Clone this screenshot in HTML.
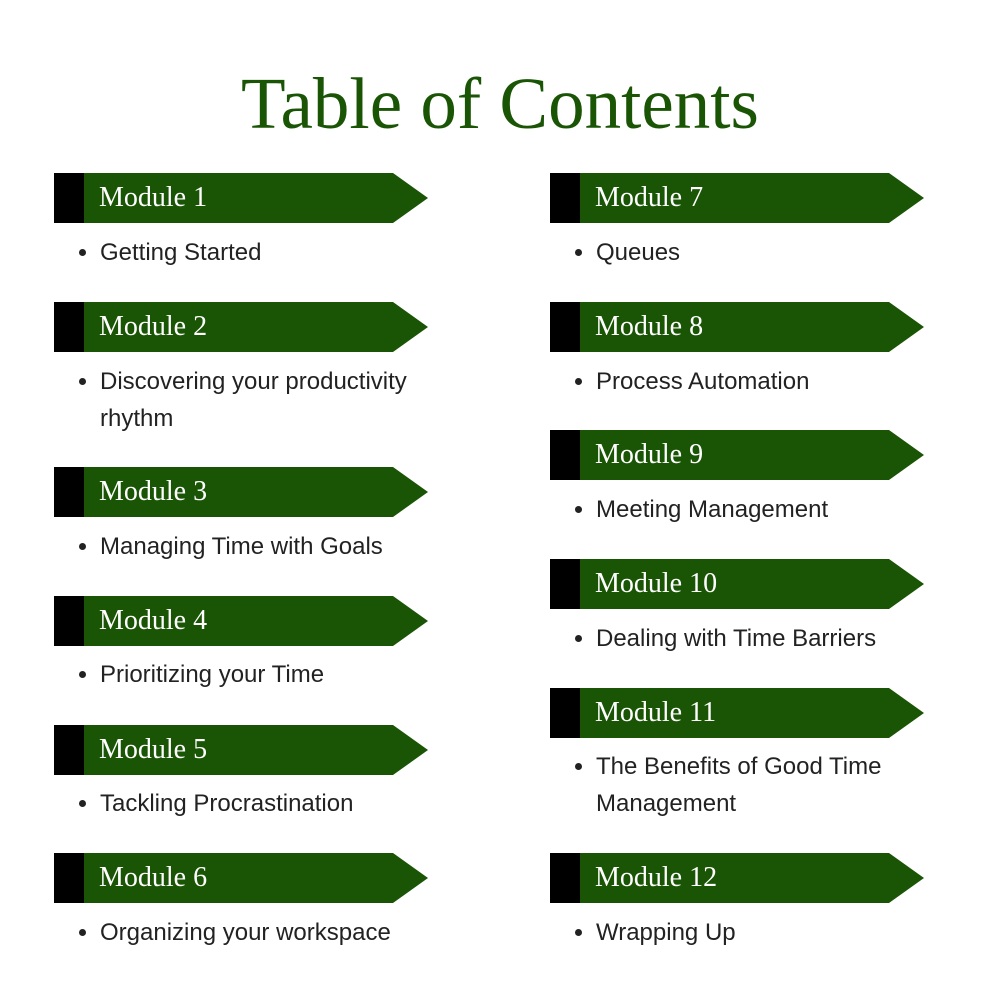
<!DOCTYPE html>
<html><head><meta charset="utf-8"><style>
body{margin:0;width:1000px;height:1000px;background:#fff;position:relative;overflow:hidden}
.t{position:absolute;left:0;width:1000px;text-align:center;top:59px;font:73px/90px "Liberation Serif",serif;color:#1a5505}
.b{position:absolute;width:374px;height:50px}
.b svg{position:absolute;left:0;top:0}
.b span{position:absolute;left:45px;top:8px;font:28px/34px "Liberation Serif",serif;color:#fff}
.i{position:absolute;font:24px/37px "Liberation Sans",sans-serif;color:#222;width:340px;margin-top:2px}
.i:before{content:"";position:absolute;left:-21px;top:15px;width:7px;height:7px;border-radius:50%;background:#222}
</style></head><body>
<div class="t">Table of Contents</div>
<svg width="0" height="0" style="position:absolute"><defs><g id="bn"><rect x="0" y="0" width="30" height="50" fill="#000"/><polygon points="30,0 339,0 374,25 339,50 30,50" fill="#1a5505"/></g></defs></svg>

<div class="b" style="left:54px;top:173px"><svg width="374" height="50"><use href="#bn"/></svg><span>Module 1</span></div>
<div class="i" style="left:100px;top:232px">Getting Started</div>
<div class="b" style="left:54px;top:302px"><svg width="374" height="50"><use href="#bn"/></svg><span>Module 2</span></div>
<div class="i" style="left:100px;top:361px">Discovering your productivity rhythm</div>
<div class="b" style="left:54px;top:467px"><svg width="374" height="50"><use href="#bn"/></svg><span>Module 3</span></div>
<div class="i" style="left:100px;top:526px">Managing Time with Goals</div>
<div class="b" style="left:54px;top:596px"><svg width="374" height="50"><use href="#bn"/></svg><span>Module 4</span></div>
<div class="i" style="left:100px;top:654px">Prioritizing your Time</div>
<div class="b" style="left:54px;top:725px"><svg width="374" height="50"><use href="#bn"/></svg><span>Module 5</span></div>
<div class="i" style="left:100px;top:783px">Tackling Procrastination</div>
<div class="b" style="left:54px;top:853px"><svg width="374" height="50"><use href="#bn"/></svg><span>Module 6</span></div>
<div class="i" style="left:100px;top:912px">Organizing your workspace</div>

<div class="b" style="left:550px;top:173px"><svg width="374" height="50"><use href="#bn"/></svg><span>Module 7</span></div>
<div class="i" style="left:596px;top:232px">Queues</div>
<div class="b" style="left:550px;top:302px"><svg width="374" height="50"><use href="#bn"/></svg><span>Module 8</span></div>
<div class="i" style="left:596px;top:361px">Process Automation</div>
<div class="b" style="left:550px;top:430px"><svg width="374" height="50"><use href="#bn"/></svg><span>Module 9</span></div>
<div class="i" style="left:596px;top:489px">Meeting Management</div>
<div class="b" style="left:550px;top:559px"><svg width="374" height="50"><use href="#bn"/></svg><span>Module 10</span></div>
<div class="i" style="left:596px;top:618px">Dealing with Time Barriers</div>
<div class="b" style="left:550px;top:688px"><svg width="374" height="50"><use href="#bn"/></svg><span>Module 11</span></div>
<div class="i" style="left:596px;top:746px;width:320px">The Benefits of Good Time Management</div>
<div class="b" style="left:550px;top:853px"><svg width="374" height="50"><use href="#bn"/></svg><span>Module 12</span></div>
<div class="i" style="left:596px;top:912px">Wrapping Up</div>
</body></html>
